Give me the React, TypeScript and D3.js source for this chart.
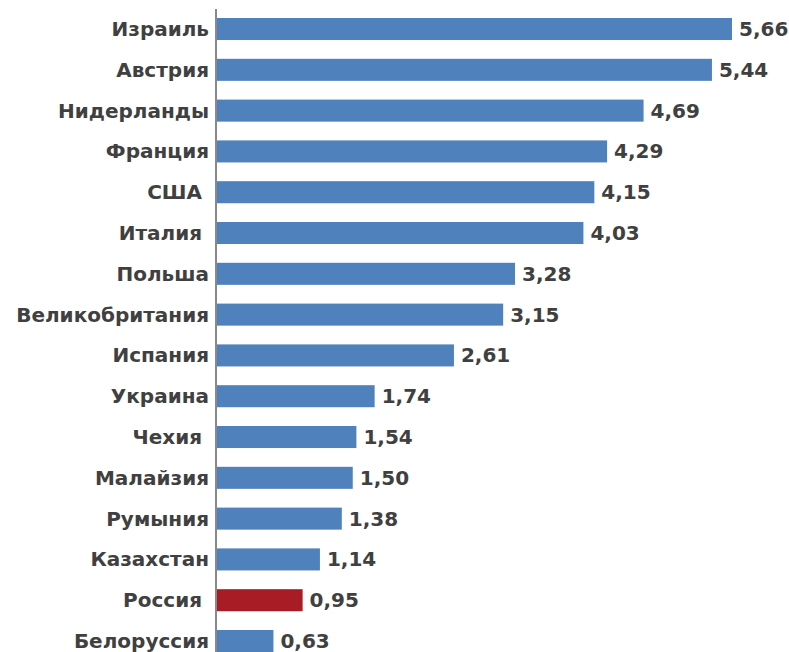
import React from "react";
import * as d3 from "d3";

const countries = ["Израиль", "Австрия", "Нидерланды", "Франция", "США ", "Италия ", "Польша", "Великобритания", "Испания", "Украина", "Чехия ", "Малайзия", "Румыния", "Казахстан", "Россия ", "Белоруссия"];
const values = [5.66, 5.44, 4.69, 4.29, 4.15, 4.03, 3.28, 3.15, 2.61, 1.74, 1.54, 1.50, 1.38, 1.14, 0.95, 0.63];
const highlight = ["Россия "];

export default function App() {
  const W = 789, H = 652;
  const x0 = 216;
  const step = 40.8;
  const x = d3.scaleLinear().domain([0, 5.66]).range([x0, 732]);
  const y = d3.scaleBand<string>().domain(countries).range([18 - 0.23 * step, 18 - 0.23 * step + 16 * step]).paddingInner(0.46).paddingOuter(0.23);
  const fmt = (v: number) => v.toFixed(2).replace(".", ",");
  const font = "'DejaVu Sans', sans-serif";
  return (
    <svg width={W} height={H} style={{ position: "absolute", left: 0, top: 0 }} xmlns="http://www.w3.org/2000/svg">
      <rect width={W} height={H} fill="#fff" />
      {countries.map((c, i) => {
        const yy = y(c)!;
        const bw = y.bandwidth();
        const v = values[i];
        return (
          <g key={c}>
            <rect x={x0 + 1} y={yy} width={x(v) - x0 - 1} height={bw} fill={highlight.includes(c) ? "#A81C26" : "#4F81BD"} />
            <text x={209} y={yy + bw / 2} textAnchor="end" dominantBaseline="central" fontFamily={font} fontWeight="bold" fontSize={20} fill="#404040" style={{ whiteSpace: "pre" }}>{c}</text>
            <text x={x(v) + 7} y={yy + bw / 2} dominantBaseline="central" fontFamily={font} fontWeight="bold" fontSize={20} fill="#404040">{fmt(v)}</text>
          </g>
        );
      })}
      <line x1={x0} x2={x0} y1={9} y2={H} stroke="#898989" strokeWidth={2} />
    </svg>
  );
}
